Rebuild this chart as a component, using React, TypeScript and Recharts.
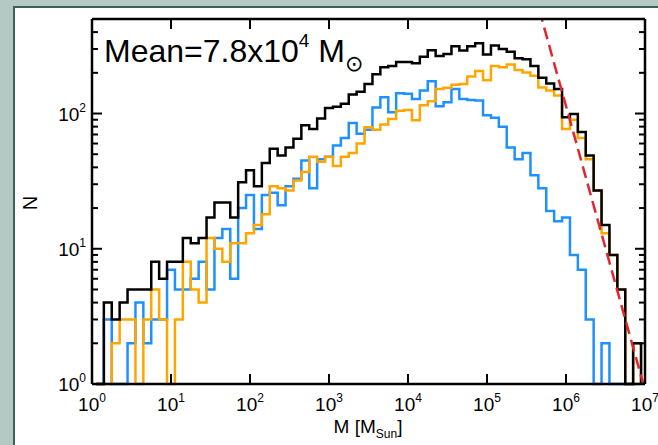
import React from "react";
import { LineChart, Line, XAxis, YAxis } from "recharts";

// lower bin edges, log10(M / Msun); first entry is an empty bin before the data
const binLogM = [
  0.05, 0.15, 0.25, 0.35, 0.45, 0.55, 0.65, 0.75, 0.85, 0.95,
  1.05, 1.15, 1.25, 1.35, 1.45, 1.55, 1.65, 1.75, 1.85, 1.95,
  2.05, 2.15, 2.25, 2.35, 2.45, 2.55, 2.65, 2.75, 2.85, 2.95,
  3.05, 3.15, 3.25, 3.35, 3.45, 3.55, 3.65, 3.75, 3.85, 3.95,
  4.05, 4.15, 4.25, 4.35, 4.45, 4.55, 4.65, 4.75, 4.85, 4.95,
  5.05, 5.15, 5.25, 5.35, 5.45, 5.55, 5.65, 5.75, 5.85, 5.95,
  6.05, 6.15, 6.25, 6.35, 6.45, 6.55, 6.65, 6.75, 6.85, 6.95,
];

// counts per bin (black = all, orange and blue = the two sub-samples)
const totalN = [
  0, 4, 3, 4, 5, 5, 5, 8, 6, 8,
  8, 12, 11, 12, 17, 22, 22, 17, 31, 38,
  29, 43, 55, 49, 56, 65, 82, 77, 92, 110,
  112, 118, 138, 145, 165, 195, 220, 225, 240, 240,
  235, 263, 294, 266, 276, 315, 293, 314, 331, 273,
  318, 300, 286, 256, 252, 225, 184, 167, 152, 94,
  99, 73, 49, 27, 15, 9, 5, 0, 2, 0,
];
const orangeN = [
  0, 1, 2, 3, 3, 1, 3, 5, 3, 1,
  3, 8, 5, 4, 12, 10, 8, 11, 11, 13,
  15, 18, 29, 28, 27, 32, 37, 48, 44, 48,
  41, 48, 51, 60, 79, 76, 83, 91, 105, 106,
  89, 115, 123, 152, 155, 163, 165, 188, 206, 176,
  225, 220, 230, 210, 201, 190, 156, 148, 136, 77,
  90, 66, 46, 27, 13, 9, 5, 0, 2, 0,
];
const blueN = [
  0, 3, 1, 1, 2, 4, 2, 3, 3, 7,
  5, 5, 6, 8, 5, 12, 14, 6, 20, 25,
  14, 25, 26, 21, 29, 33, 45, 28, 46, 48,
  58, 66, 85, 71, 76, 111, 132, 102, 141, 140,
  128, 148, 173, 113, 121, 152, 128, 126, 125, 97,
  93, 80, 56, 46, 51, 35, 28, 19, 16, 17,
  9, 7, 3, 0, 2, 0, 0, 0, 0, 0,
];

// power-law fit to the high-mass end
const fitM = [4e5, 1e7];
const fitN = [780, 0.9];

const xTicks = [1, 1e1, 1e2, 1e3, 1e4, 1e5, 1e6, 1e7];
const yTicks = [
  1, 2, 3, 4, 5, 6, 7, 8, 9,
  10, 20, 30, 40, 50, 60, 70, 80, 90,
  100, 200, 300, 400,
];

const font = "'Liberation Sans', Arial, Helvetica, sans-serif";

// zero counts sit on the bottom of the plot, like the original
const rows = binLogM.map((e, i) => ({
  m: Math.pow(10, e),
  total: Math.max(totalN[i], 1),
  orange: Math.max(orangeN[i], 1),
  blue: Math.max(blueN[i], 1),
}));
const fitRows = fitM.map((m, i) => ({ m, fit: fitN[i] }));

const isMajor = (v: number) =>
  Math.abs(Math.log10(v) - Math.round(Math.log10(v))) < 1e-6;

function Pow({ x, y, v, anchor }: any) {
  const e = Math.round(Math.log10(v));
  return (
    <text x={x} y={y} textAnchor={anchor} fontFamily={font} fontSize={19} fill="#000">
      10<tspan dy={-9} fontSize={12}>{e}</tspan>
    </text>
  );
}

function BottomTick({ x, y, payload }: any) {
  return (
    <g>
      <line x1={x} y1={y} x2={x} y2={y - 10} stroke="#000" strokeWidth={2} />
      <Pow x={x} y={y + 27} v={payload.value} anchor="middle" />
    </g>
  );
}

function TopTick({ x, y }: any) {
  return <line x1={x} y1={y} x2={x} y2={y + 10} stroke="#000" strokeWidth={2} />;
}

function LeftTick({ x, y, payload }: any) {
  const major = isMajor(payload.value);
  return (
    <g>
      <line x1={x} y1={y} x2={x + (major ? 10 : 6)} y2={y} stroke="#000" strokeWidth={2} />
      {major && <Pow x={x - 6} y={y + 7} v={payload.value} anchor="end" />}
    </g>
  );
}

function RightTick({ x, y, payload }: any) {
  const major = isMajor(payload.value);
  return <line x1={x} y1={y} x2={x - (major ? 10 : 6)} y2={y} stroke="#000" strokeWidth={2} />;
}

const frame = { stroke: "#000", strokeWidth: 2.5 };

export default function App() {
  return (
    <div
      style={{
        position: "fixed",
        left: 0,
        top: 0,
        width: 658,
        height: 445,
        overflow: "hidden",
        background: "#b4c9c4",
      }}
    >
      <div
        style={{
          position: "absolute",
          left: 13,
          top: 6,
          width: 660,
          height: 460,
          background: "#fff",
          borderLeft: "2px solid #3c6156",
          borderTop: "2px solid #3c6156",
        }}
      />
      <div style={{ position: "absolute", left: 0, top: 0 }}>
        <LineChart
          width={658}
          height={445}
          data={rows}
          margin={{ top: 9, right: 3, bottom: 11, left: 42 }}
        >
          <XAxis
            dataKey="m"
            type="number"
            scale="log"
            domain={[1, 1e7]}
            ticks={xTicks}
            interval={0}
            height={50}
            tickSize={0}
            tickMargin={0}
            tickLine={false}
            axisLine={frame}
            tick={BottomTick}
          />
          <XAxis
            xAxisId="top"
            orientation="top"
            dataKey="m"
            type="number"
            scale="log"
            domain={[1, 1e7]}
            allowDataOverflow
            ticks={xTicks}
            interval={0}
            height={10}
            tickSize={0}
            tickMargin={0}
            tickLine={false}
            axisLine={frame}
            tick={TopTick}
          />
          <YAxis
            type="number"
            scale="log"
            domain={[1, 500]}
            ticks={yTicks}
            interval={0}
            width={50}
            tickSize={0}
            tickMargin={0}
            tickLine={false}
            axisLine={frame}
            tick={LeftTick}
          />
          <YAxis
            yAxisId="right"
            orientation="right"
            type="number"
            scale="log"
            domain={[1, 500]}
            allowDataOverflow
            ticks={yTicks}
            interval={0}
            width={10}
            tickSize={0}
            tickMargin={0}
            tickLine={false}
            axisLine={frame}
            tick={RightTick}
          />
          <Line
            type="stepAfter"
            dataKey="blue"
            stroke="#1E90FF"
            strokeWidth={2.5}
            dot={false}
            isAnimationActive={false}
          />
          <Line
            type="stepAfter"
            dataKey="orange"
            stroke="#FFA500"
            strokeWidth={2.5}
            dot={false}
            isAnimationActive={false}
          />
          <Line
            type="stepAfter"
            dataKey="total"
            stroke="#000"
            strokeWidth={2.5}
            dot={false}
            isAnimationActive={false}
          />
          <Line
            data={fitRows}
            xAxisId="top"
            yAxisId="right"
            type="linear"
            dataKey="fit"
            stroke="#E3262B"
            strokeWidth={2.5}
            strokeDasharray="12 6"
            dot={false}
            isAnimationActive={false}
          />
        </LineChart>
      </div>
      <svg
        width={658}
        height={445}
        style={{ position: "absolute", left: 0, top: 0, pointerEvents: "none" }}
      >
        <text x={104} y={62} fontFamily={font} fontSize={32} fill="#000">
          Mean=7.8x10
          <tspan dy={-15} fontSize={19}>4</tspan>
          <tspan dy={15}> M</tspan>
          <tspan dy={9} fontSize={22} fontFamily="'DejaVu Sans', sans-serif">⊙</tspan>
        </text>
        <text x={368} y={433} textAnchor="middle" fontFamily={font} fontSize={19} fill="#000">
          M [M<tspan dy={5} fontSize={12}>Sun</tspan>
          <tspan dy={-5}>]</tspan>
        </text>
        <text
          transform="translate(37,203) rotate(-90)"
          textAnchor="middle"
          fontFamily={font}
          fontSize={20}
          fill="#000"
        >
          N
        </text>
      </svg>
    </div>
  );
}
